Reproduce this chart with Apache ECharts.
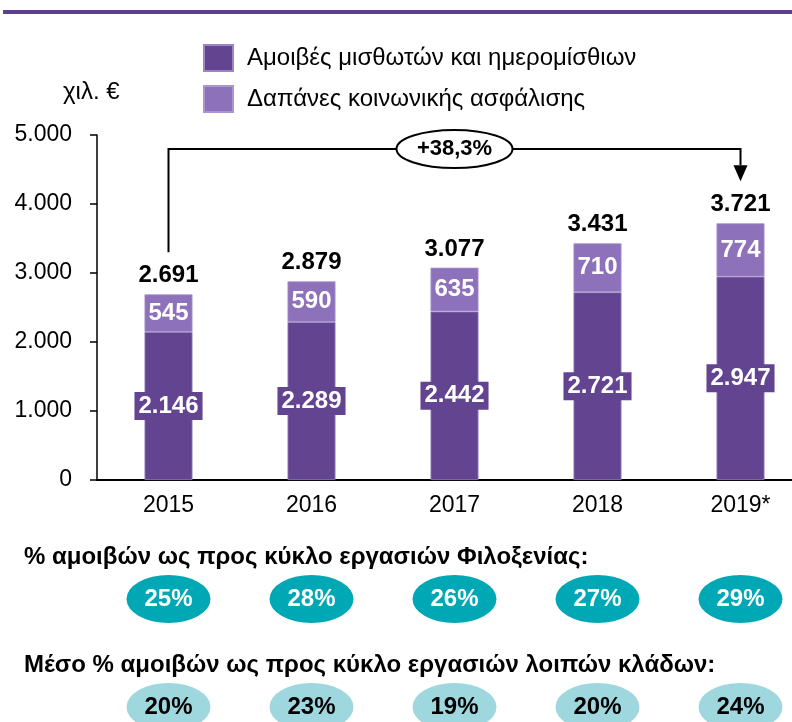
<!DOCTYPE html>
<html>
<head>
<meta charset="utf-8">
<script src="https://cdn.jsdelivr.net/npm/echarts@6/dist/echarts.min.js"></script>
<style>
html,body{margin:0;padding:0;background:#fff;}
#chart{width:792px;height:722px;}
</style>
</head>
<body>
<div id="chart"></div>
<script>
const categories = ['2015', '2016', '2017', '2018', '2019*'];
const wages = [2146, 2289, 2442, 2721, 2947];
const insurance = [545, 590, 635, 710, 774];
const totals = [2691, 2879, 3077, 3431, 3721];
const hospitalityPct = [25, 28, 26, 27, 29];
const otherSectorsPct = [20, 23, 19, 20, 24];
const seriesNames = ['Αμοιβές μισθωτών και ημερομίσθιων', 'Δαπάνες κοινωνικής ασφάλισης'];
const unitLabel = 'χιλ. €';
const growthLabel = '+38,3%';
const heading1 = '% αμοιβών ως προς κύκλο εργασιών Φιλοξενίας:';
const heading2 = 'Μέσο % αμοιβών ως προς κύκλο εργασιών λοιπών κλάδων:';
const yMax = 5000, yInterval = 1000;

const FONT = '"Liberation Sans", Arial, sans-serif';
const DARK = '#624490';
const LIGHT = '#8e71bb';
const TEAL = '#00a8b5';
const TEAL_LIGHT = '#9fd7de';

function fmt(v) { return String(v).replace(/\B(?=(\d{3})+(?!\d))/g, '.'); }

const ellipsePath = 'path://M0,24A42,24 0 1,1 84,24A42,24 0 1,1 0,24Z';

const chart = echarts.init(document.getElementById('chart'), null, {renderer: 'canvas'});

const option = {
  animation: false,
  backgroundColor: '#fff',
  textStyle: {fontFamily: FONT},
  legend: {
    orient: 'vertical',
    left: 203, top: 44, padding: 0,
    itemWidth: 29, itemHeight: 26, itemGap: 13,
    icon: 'rect',
    selectedMode: false,
    data: seriesNames,
    textStyle: {fontFamily: FONT, fontSize: 24, color: '#000', padding: [0, 0, 0, 9]}
  },
  grid: [
    {left: 97, width: 715, top: 135, bottom: 242, outerBoundsMode: 'none', containLabel: false},
    {left: 97, width: 715, top: 599, bottom: 15, outerBoundsMode: 'none', containLabel: false}
  ],
  xAxis: [
    {
      type: 'category', gridIndex: 0, data: categories,
      axisLine: {lineStyle: {color: '#000', width: 2}},
      axisTick: {show: false},
      axisLabel: {fontFamily: FONT, fontSize: 23, color: '#000', margin: 14}
    },
    {
      type: 'category', gridIndex: 1, data: categories, show: false
    }
  ],
  yAxis: [
    {
      type: 'value', gridIndex: 0, min: 0, max: yMax, interval: yInterval,
      axisLine: {show: true, lineStyle: {color: '#000', width: 1.5}},
      axisTick: {show: true, length: 7, lineStyle: {color: '#000', width: 1.5}},
      splitLine: {show: false},
      axisLabel: {fontFamily: FONT, fontSize: 23, color: '#000', margin: 25, formatter: v => fmt(v)}
    },
    {type: 'value', gridIndex: 1, min: 0, max: 1, show: false}
  ],
  series: [
    {
      name: seriesNames[0], type: 'bar', stack: 'total', data: wages,
      barWidth: 48,
      itemStyle: {color: DARK, borderColor: '#9a86c2', borderWidth: 0.8},
      label: {
        show: true, position: 'inside', formatter: p => fmt(p.value),
        fontFamily: FONT, fontSize: 24, fontWeight: 'bold', color: '#fff',
        backgroundColor: DARK, padding: [3, 4, 1, 4]
      }
    },
    {
      name: seriesNames[1], type: 'bar', stack: 'total', data: insurance,
      barWidth: 48,
      itemStyle: {color: LIGHT, borderColor: '#a995cf', borderWidth: 0.8},
      label: {
        show: true, position: 'inside', formatter: p => fmt(p.value),
        fontFamily: FONT, fontSize: 24, fontWeight: 'bold', color: '#fff'
      }
    },
    {
      name: 'totals', type: 'scatter', data: totals, symbol: 'rect', symbolSize: 1,
      itemStyle: {color: 'rgba(0,0,0,0)', opacity: 1}, silent: true,
      label: {
        show: true, position: 'top', distance: 6, formatter: p => fmt(p.value),
        fontFamily: FONT, fontSize: 24, fontWeight: 'bold', color: '#000', opacity: 1
      }
    },
    {
      name: 'hosp', type: 'scatter', xAxisIndex: 1, yAxisIndex: 1,
      data: hospitalityPct.map((v, i) => [i, 1, v]),
      symbol: ellipsePath, symbolSize: [84, 48], silent: true,
      itemStyle: {color: TEAL, opacity: 1},
      label: {
        show: true, position: 'inside', formatter: p => p.value[2] + '%',
        fontFamily: FONT, fontSize: 24, fontWeight: 'bold', color: '#fff'
      }
    },
    {
      name: 'other', type: 'scatter', xAxisIndex: 1, yAxisIndex: 1,
      data: otherSectorsPct.map((v, i) => [i, 0, v]),
      symbol: ellipsePath, symbolSize: [84, 48], silent: true,
      itemStyle: {color: TEAL_LIGHT, opacity: 1},
      label: {
        show: true, position: 'inside', formatter: p => p.value[2] + '%',
        fontFamily: FONT, fontSize: 24, fontWeight: 'bold', color: '#000'
      }
    }
  ]
};
chart.setOption(option);

// Annotations built from the axis scales
const px = (i, v) => chart.convertToPixel({xAxisIndex: 0, yAxisIndex: 0}, [i, v]);
const last = categories.length - 1;
const p0 = px(0, totals[0]);
const pN = px(last, totals[last]);
const yTop = px(0, yMax)[1] + 14;
const yStart = p0[1] - 42;
const yTip = pN[1] - 42;
const yArrow = yTip - 16;
const midX = (p0[0] + pN[0]) / 2;

chart.setOption({
  graphic: [
    {type: 'rect', shape: {x: 3, y: 10, width: 800, height: 4}, style: {fill: '#5d3f8d'}, silent: true},
    {type: 'text', x: 63, y: 92, style: {text: unitLabel, font: '24px ' + FONT, fill: '#000', verticalAlign: 'middle'}},
    {type: 'polyline', shape: {points: [[p0[0], yStart], [p0[0], yTop], [pN[0], yTop], [pN[0], yArrow]]},
     style: {stroke: '#000', lineWidth: 2, fill: null}},
    {type: 'polygon', shape: {points: [[pN[0] - 7, yArrow], [pN[0] + 7, yArrow], [pN[0], yTip]]},
     style: {fill: '#000'}},
    {type: 'ellipse', shape: {cx: midX, cy: yTop, rx: 58, ry: 19},
     style: {fill: '#fff', stroke: '#000', lineWidth: 2}},
    {type: 'text', x: midX, y: yTop, style: {text: growthLabel, font: 'bold 22px ' + FONT, fill: '#000', align: 'center', verticalAlign: 'middle'}},
    {type: 'text', x: 24, y: 557, style: {text: heading1, font: 'bold 24px ' + FONT, fill: '#000', verticalAlign: 'middle'}},
    {type: 'text', x: 24, y: 665, style: {text: heading2, font: 'bold 24px ' + FONT, fill: '#000', verticalAlign: 'middle'}}
  ]
});
</script>
</body>
</html>
